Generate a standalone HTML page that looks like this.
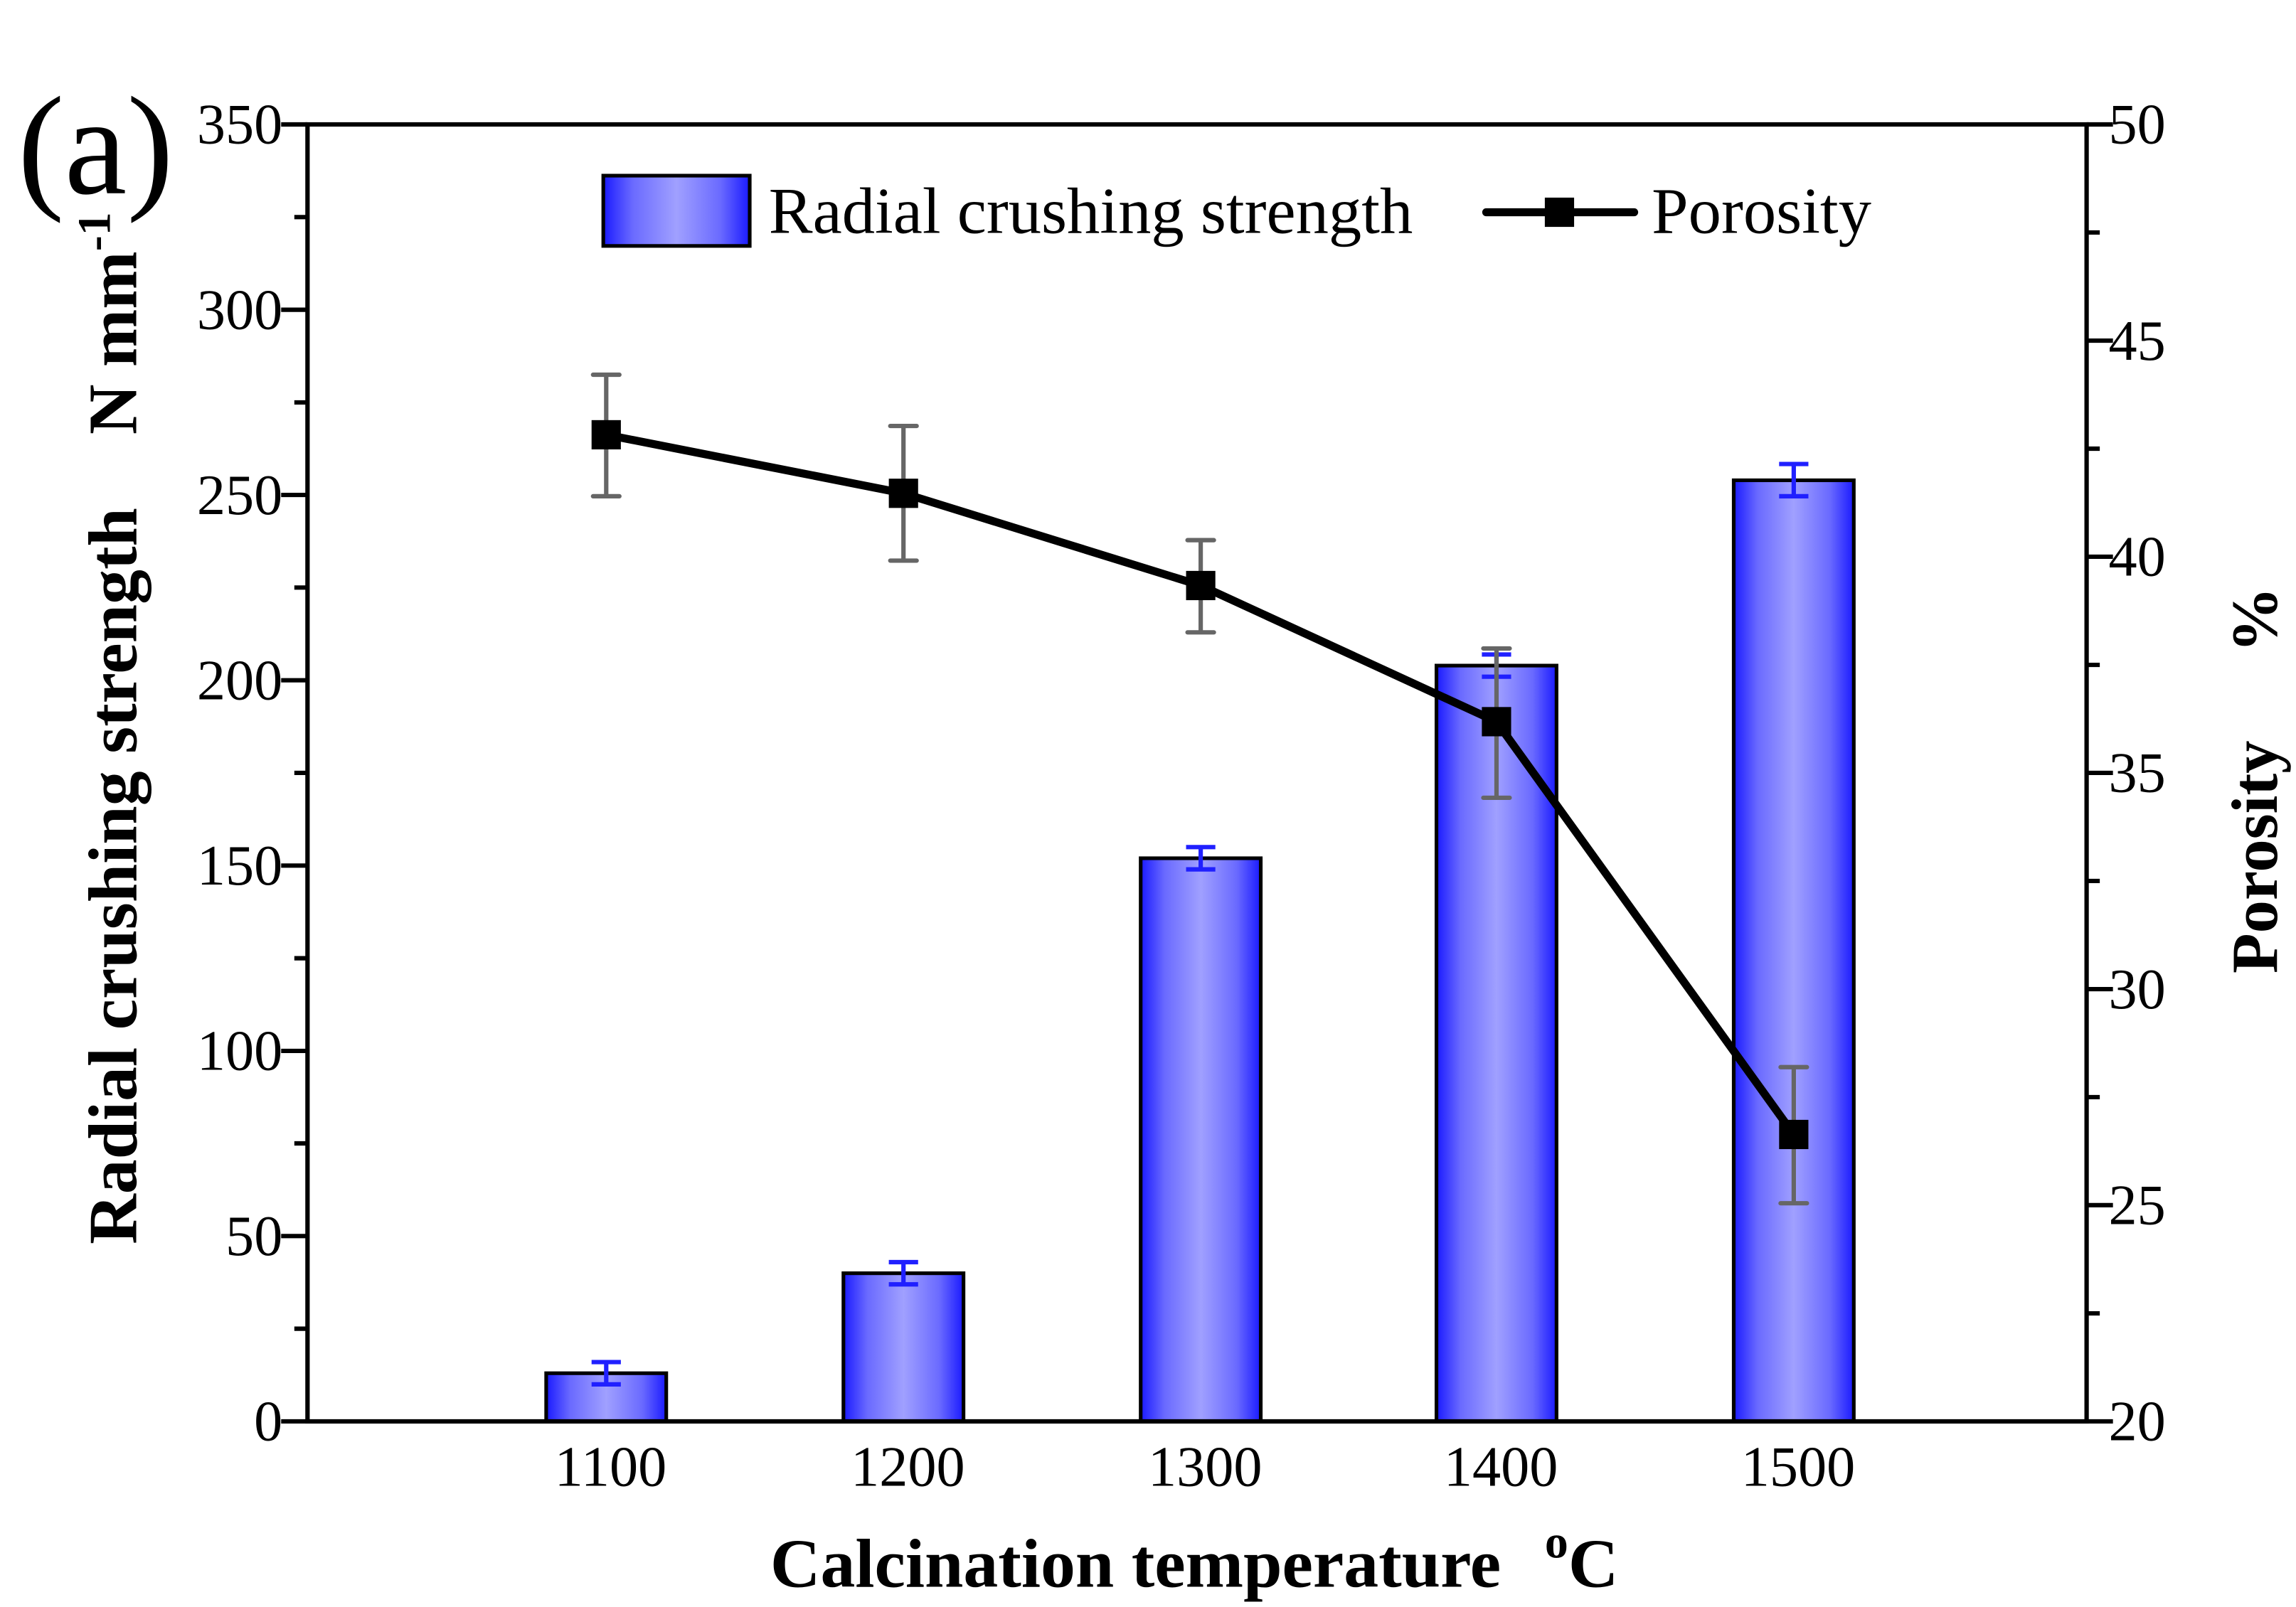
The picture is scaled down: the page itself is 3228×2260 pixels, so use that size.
<!DOCTYPE html>
<html><head><meta charset="utf-8"><style>html,body{margin:0;padding:0;background:#fff}svg{display:block}</style></head>
<body>
<svg width="3228" height="2260" viewBox="0 0 1568 1097.8" xmlns="http://www.w3.org/2000/svg" font-family="'Liberation Serif', serif">
<defs>
<linearGradient id="g" x1="0" x2="1" y1="0" y2="0">
<stop offset="0" stop-color="#1a1aff"/><stop offset="0.2" stop-color="#6a6aff"/><stop offset="0.5" stop-color="#a0a0ff"/><stop offset="0.8" stop-color="#6a6aff"/><stop offset="1" stop-color="#1a1aff"/>
</linearGradient>
</defs>
<rect width="1568" height="1098" fill="#fff"/>
<g stroke="#000" stroke-width="2.5" fill="url(#g)">
<rect x="373" y="938.1" width="82" height="32.9"/>
<rect x="576" y="869.8" width="82" height="101.2"/>
<rect x="779" y="586.3" width="82" height="384.7"/>
<rect x="981" y="454.7" width="82" height="516.3"/>
<rect x="1184" y="328.1" width="82" height="642.9"/>
</g>
<g stroke="#2020ff" stroke-width="3" fill="none">
<path d="M414 930.5V945.7M404 930.5H424M404 945.7H424"/>
<path d="M617 862.2V877.4M607 862.2H627M607 877.4H627"/>
<path d="M820 578.7V593.9M810 578.7H830M810 593.9H830"/>
<path d="M1022 447.1V462.3M1012 447.1H1032M1012 462.3H1032"/>
<path d="M1225 317V339M1215 317H1235M1215 339H1235"/>
</g>
<g stroke="#666" stroke-width="3" fill="none" stroke-linecap="round">
<path d="M414 256V339M405 256H423M405 339H423"/>
<path d="M617 291V383M608 291H626M608 383H626"/>
<path d="M820 369V432M811 369H829M811 432H829"/>
<path d="M1022 443V545M1013 443H1031M1013 545H1031"/>
<path d="M1225 729V822M1216 729H1234M1216 822H1234"/>
</g>
<polyline points="414,297 617,337 820,400 1022,493 1225,775" fill="none" stroke="#000" stroke-width="5.5" stroke-linejoin="round" stroke-linecap="round"/>
<g fill="#000">
<rect x="404" y="287" width="20" height="20"/>
<rect x="607" y="327" width="20" height="20"/>
<rect x="810" y="390" width="20" height="20"/>
<rect x="1012" y="483" width="20" height="20"/>
<rect x="1215" y="765" width="20" height="20"/>
</g>
<g stroke="#000" stroke-width="3" fill="none">
<rect x="210" y="85" width="1215" height="886"/>
<path d="M192 85H210M192 211.6H210M192 338.1H210M192 464.7H210M192 591.3H210M192 717.9H210M192 844.4H210M192 971H210"/>
<path d="M201 148.3H210M201 274.9H210M201 401.4H210M201 528H210M201 654.6H210M201 781.1H210M201 907.7H210"/>
<path d="M1425 85H1443M1425 232.7H1443M1425 380.3H1443M1425 528H1443M1425 675.7H1443M1425 823.3H1443M1425 971H1443"/>
<path d="M1425 158.8H1434M1425 306.5H1434M1425 454.2H1434M1425 601.8H1434M1425 749.5H1434M1425 897.2H1434"/>
</g>
<g font-size="39" fill="#000" text-anchor="end">
<text x="193" y="98">350</text><text x="193" y="224.6">300</text><text x="193" y="351.1">250</text><text x="193" y="477.7">200</text><text x="193" y="604.3">150</text><text x="193" y="730.9">100</text><text x="193" y="857.4">50</text><text x="193" y="984">0</text>
</g>
<g font-size="39" fill="#000">
<text x="1440" y="98">50</text><text x="1440" y="245.7">45</text><text x="1440" y="393.3">40</text><text x="1440" y="541">35</text><text x="1440" y="688.7">30</text><text x="1440" y="836.3">25</text><text x="1440" y="984">20</text>
</g>
<g font-size="39" fill="#000" text-anchor="middle">
<text x="417" y="1015">1100</text><text x="620" y="1015">1200</text><text x="823" y="1015">1300</text><text x="1025" y="1015">1400</text><text x="1228" y="1015">1500</text>
</g>
<text x="526" y="1084" font-size="47.5" font-weight="bold">Calcination temperature<tspan dx="30" dy="-20" font-size="32">o</tspan><tspan dy="20">C</tspan></text>
<text transform="translate(93,850) rotate(-90)" font-size="47.5" font-weight="bold">Radial crushing strength<tspan dx="50">N mm</tspan><tspan dy="-18" font-size="32">-1</tspan></text>
<text transform="translate(1555,665) rotate(-90)" font-size="45" font-weight="bold">Porosity<tspan dx="60">%</tspan></text>
<text x="12" y="132" font-size="96">(a)</text>
<rect x="412" y="120" width="100" height="48" fill="url(#g)" stroke="#000" stroke-width="2.5"/>
<text x="525" y="159" font-size="45">Radial crushing strength</text>
<line x1="1015" y1="145" x2="1116" y2="145" stroke="#000" stroke-width="5.5" stroke-linecap="round"/>
<rect x="1055" y="135" width="20" height="20" fill="#000"/>
<text x="1128" y="159" font-size="45">Porosity</text>
</svg>
</body></html>
